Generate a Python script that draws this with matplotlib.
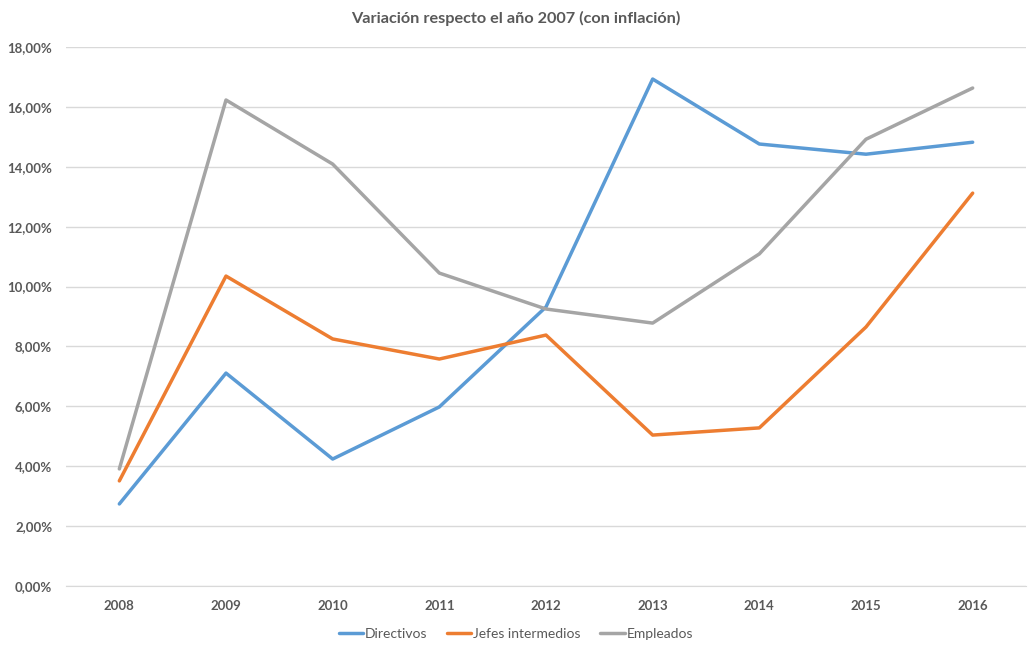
import numpy as np
import matplotlib
matplotlib.use('Agg')
import matplotlib.pyplot as plt
from matplotlib.ticker import FuncFormatter

years = ['2008', '2009', '2010', '2011', '2012', '2013', '2014', '2015', '2016']
directivos = [2.74, 7.11, 4.24, 5.98, 9.32, 16.93, 14.76, 14.42, 14.82]
jefes = [3.51, 10.35, 8.25, 7.58, 8.38, 5.04, 5.28, 8.65, 13.12]
empleados = [3.91, 16.23, 14.09, 10.45, 9.25, 8.78, 11.09, 14.92, 16.63]

plt.rcParams['font.family'] = ['Lato', 'DejaVu Sans']
text_color = '#595959'

fig = plt.figure(figsize=(10.32, 6.56), dpi=100)
ax = fig.add_axes([66 / 1032, 1 - 586 / 656, 960 / 1032, 539 / 656])

x = np.arange(len(years))
ax.plot(x, directivos, color='#5b9bd5', lw=2.5, label='Directivos', solid_capstyle='round')
ax.plot(x, jefes, color='#ed7d31', lw=2.5, label='Jefes intermedios', solid_capstyle='round')
ax.plot(x, empleados, color='#a5a5a5', lw=2.5, label='Empleados', solid_capstyle='round')

ax.set_xlim(-0.5, len(years) - 0.5)
ax.set_ylim(0, 18)
ax.set_yticks(np.arange(0, 19, 2))
ax.yaxis.set_major_formatter(FuncFormatter(lambda v, p: '{:.2f}%'.format(v).replace('.', ',')))
ax.set_xticks(x)
ax.set_xticklabels(years)
ax.grid(axis='y', color='#d9d9d9', lw=1)
ax.set_axisbelow(True)
for s in ['top', 'right', 'left']:
    ax.spines[s].set_visible(False)
ax.spines['bottom'].set_color('#d9d9d9')
ax.tick_params(length=0, colors=text_color, labelsize=9.5, pad=10)
for lbl in ax.get_xticklabels() + ax.get_yticklabels():
    lbl.set_fontweight('bold')

fig.text(0.5, 1 - 18 / 656, 'Variación respecto el año 2007 (con inflación)', ha='center', va='center',
         fontsize=11.7, fontweight='bold', color=text_color)

leg = fig.legend(loc='center', bbox_to_anchor=(0.5, 1 - 634 / 656), ncol=3, frameon=False,
                 fontsize=10, handlelength=1.75, columnspacing=1.4, handletextpad=0.15)
for t in leg.get_texts():
    t.set_color(text_color)

fig.savefig('out.png', dpi=100)
